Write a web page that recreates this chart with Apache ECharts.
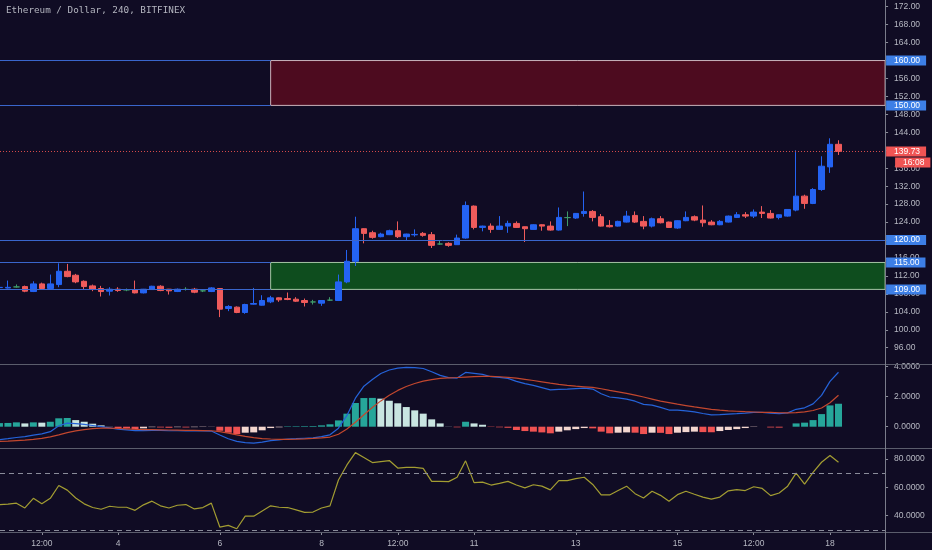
<!DOCTYPE html>
<html><head><meta charset="utf-8">
<script src="https://cdn.jsdelivr.net/npm/echarts@6/dist/echarts.min.js"></script>
<style>html,body{margin:0;padding:0;background:#100c24;}#c{width:932px;height:550px;}</style>
</head><body><div id="c"></div>
<script>
// ---- data (4h candles, index 0 = Feb 1 16:00) ----
const openP = [109.4,109.3,109.55,109.63,108.52,110.22,109.19,110.07,113.04,112.15,
110.8,109.78,109.19,108.6,109.04,108.89,108.89,108.22,108.96,109.7,
109.04,108.52,109.0,109.04,108.67,108.52,109.19,104.74,105.04,103.85,
105.7,105.48,106.22,107.11,106.96,106.81,106.52,106.2,105.93,106.6,
106.52,110.67,115.26,122.52,121.63,120.74,121.19,122.07,120.74,121.15,
121.48,121.19,119.11,119.26,118.96,120.44,127.56,122.81,123.1,122.37,
123.1,123.7,122.96,122.37,123.4,123.1,122.22,125.0,124.9,125.93,
126.37,125.19,123.25,123.1,124.0,125.48,124.15,123.1,124.74,124.0,
122.67,124.3,125.19,124.44,124.0,123.4,124.0,125.04,125.63,125.33,
126.22,125.93,125.04,125.33,126.67,129.78,128.15,131.26,136.3,141.33];
const closeP = [109.45,109.45,109.55,108.6,110.22,109.19,110.22,113.04,111.85,110.67,
109.63,109.04,108.52,109.04,108.74,108.89,108.22,109.04,109.7,108.74,
108.67,109.04,109.0,108.37,108.67,109.33,104.59,105.19,103.85,105.63,
105.85,106.52,107.11,106.67,106.74,106.37,106.07,106.2,106.52,106.6,
110.67,115.26,122.52,121.48,120.59,121.33,122.07,120.74,121.33,121.25,
121.04,118.81,119.11,118.81,120.44,127.7,122.81,123.1,122.37,123.1,
123.7,122.81,122.52,123.4,123.1,122.22,125.04,125.0,125.93,126.37,
125.04,123.1,122.96,124.15,125.33,124.0,123.1,124.74,123.85,122.8,
124.3,125.04,124.44,123.85,123.4,124.15,125.33,125.63,125.33,126.22,
125.93,124.9,125.63,126.81,129.78,128.15,131.26,136.45,141.33,139.73];
const lowP = [109.2,109.2,109.4,108.37,108.4,108.9,109.0,109.48,111.7,110.37,
109.04,108.6,107.41,107.63,108.45,108.6,108.1,108.1,108.9,108.6,
107.85,108.4,108.74,108.15,108.4,108.4,102.82,104.15,103.7,103.56,
105.6,105.4,105.93,106.22,106.6,106.2,105.19,105.63,105.33,106.4,
106.4,110.37,114.22,119.26,120.3,120.6,121.1,120.44,119.85,120.74,
120.74,118.22,118.9,118.5,118.9,120.3,122.37,121.93,121.6,122.3,
121.6,122.7,119.56,122.3,122.07,122.1,122.1,123.1,124.7,125.2,
124.15,123.0,122.8,123.0,123.9,123.8,122.4,122.8,123.7,122.7,
122.5,124.2,124.2,122.96,123.3,123.3,123.9,124.9,124.9,124.9,
124.9,124.8,124.6,125.2,126.4,126.96,128.0,130.96,134.96,138.96];
const highP = [109.6,110.96,110.1,109.85,110.8,110.5,112.3,114.8,114.67,112.45,
111.0,110.07,109.78,109.48,109.48,109.2,110.96,109.1,109.8,109.93,
109.1,109.2,109.48,109.33,108.9,109.5,109.3,105.48,105.2,105.8,
109.33,107.7,107.56,107.2,108.3,107.26,106.96,106.67,106.6,107.26,
112.3,117.78,125.19,122.6,122.07,121.63,122.3,124.15,121.4,122.37,
121.78,121.78,120.0,119.5,121.2,128.59,127.7,123.2,123.7,125.33,
124.3,124.15,123.0,123.5,123.5,124.15,127.26,126.37,126.0,130.81,
126.67,125.8,124.44,124.3,126.5,126.37,125.33,125.0,125.33,124.1,
124.4,126.37,125.48,127.7,124.44,124.44,125.45,126.22,126.22,126.81,
127.56,126.67,125.7,126.9,140.0,130.1,131.56,138.67,142.67,142.23];
const macdLine = [-0.86,-0.80,-0.72,-0.66,-0.56,-0.48,-0.33,0.06,0.24,0.20,
0.15,0.08,0.00,-0.08,-0.17,-0.21,-0.26,-0.26,-0.24,-0.25,
-0.27,-0.27,-0.28,-0.28,-0.28,-0.29,-0.55,-0.80,-0.98,-1.06,
-1.10,-1.03,-0.93,-0.88,-0.82,-0.80,-0.77,-0.74,-0.66,-0.54,
-0.10,0.75,1.90,2.70,3.15,3.55,3.78,3.90,3.95,3.94,
3.88,3.66,3.42,3.27,3.24,3.62,3.56,3.49,3.33,3.29,
3.22,3.02,2.87,2.75,2.61,2.46,2.49,2.51,2.54,2.57,
2.51,2.20,1.98,1.92,1.84,1.70,1.49,1.44,1.29,1.11,
1.10,1.05,0.99,0.88,0.79,0.81,0.84,0.87,0.91,0.96,
0.96,0.90,0.87,0.92,1.16,1.26,1.52,2.09,3.02,3.63];
const signalLine = [-0.98,-0.96,-0.93,-0.90,-0.85,-0.78,-0.68,-0.55,-0.40,-0.28,
-0.20,-0.13,-0.10,-0.10,-0.12,-0.14,-0.17,-0.19,-0.20,-0.21,
-0.22,-0.23,-0.24,-0.25,-0.26,-0.27,-0.33,-0.43,-0.54,-0.65,
-0.73,-0.79,-0.82,-0.84,-0.84,-0.83,-0.81,-0.78,-0.74,-0.69,
-0.50,-0.15,0.30,0.80,1.28,1.72,2.10,2.42,2.68,2.88,
3.04,3.14,3.22,3.26,3.28,3.31,3.34,3.36,3.35,3.33,
3.29,3.24,3.16,3.08,2.99,2.90,2.82,2.75,2.70,2.66,
2.62,2.53,2.42,2.32,2.22,2.10,1.98,1.84,1.70,1.60,
1.50,1.41,1.32,1.24,1.16,1.10,1.06,1.03,1.00,0.98,
0.96,0.95,0.93,0.92,0.94,0.99,1.08,1.25,1.60,2.10];
const histogram = [0.24,0.25,0.29,0.22,0.29,0.27,0.33,0.56,0.58,0.44,
0.33,0.20,0.09,0.01,-0.09,-0.11,-0.18,-0.11,-0.03,-0.05,
-0.07,-0.03,-0.05,-0.03,-0.02,-0.01,-0.27,-0.40,-0.49,-0.40,
-0.38,-0.24,-0.09,-0.04,0.03,0.035,0.04,0.045,0.09,0.16,
0.42,0.87,1.58,1.91,1.92,1.87,1.73,1.56,1.31,1.09,
0.87,0.49,0.22,0.01,-0.04,0.33,0.22,0.13,-0.02,-0.04,
-0.07,-0.22,-0.29,-0.33,-0.38,-0.44,-0.33,-0.24,-0.16,-0.09,
-0.11,-0.33,-0.44,-0.40,-0.38,-0.40,-0.49,-0.40,-0.41,-0.49,
-0.40,-0.36,-0.33,-0.36,-0.37,-0.29,-0.22,-0.16,-0.09,-0.02,
0,-0.05,-0.06,0,0.22,0.27,0.44,0.84,1.42,1.53];
const rsiLine = [47.8,48.1,48.8,45.4,52.2,48.3,52.2,61.3,58.0,52.4,
48.3,45.7,44.5,46.6,45.9,45.9,43.7,47.6,50.2,46.9,
45.4,47.3,47.8,44.7,45.7,48.8,31.9,33.1,30.7,39.6,
39.6,43.3,46.9,45.9,45.7,44.0,42.3,42.5,45.4,46.9,
65.2,75.8,84.5,81.1,77.5,78.2,78.9,73.6,74.1,74.1,
73.4,64.2,64.2,64.0,67.1,78.7,63.3,63.7,61.6,62.8,
64.2,61.6,59.6,61.8,60.8,58.2,64.7,64.7,66.1,67.1,
62.0,54.6,54.6,57.7,60.8,55.5,52.4,57.2,54.3,50.2,
54.8,57.2,55.1,53.1,51.7,53.1,57.5,58.4,57.7,60.4,
59.2,54.1,56.0,60.8,70.0,62.3,70.5,77.7,82.5,77.7];

const priceTicks = [96,100,104,108,112,116,120,124,128,132,136,140,144,148,152,156,160,164,168,172];
const macdTicks = [0,2,4];
const rsiTicks = [40,60,80];
const rsiBands = [70,30];
const timeTickIndex = [5,14,26,38,47,56,68,80,89,98];
const timeTickText = ['12:00','4','6','8','12:00','11','13','15','12:00','18'];
const resistZone = [150,160];
const supportZone = [109,115];
const partialLevels = [160,150,115,109];
const fullLevel = 120;
const zoneStartIndex = 32;
const lastPrice = 139.73;
const countdown = '16:08';
const titleText = 'Ethereum / Dollar, 240, BITFINEX';
const xRange = [0.065, 104.5];   // visible candle-index window

const UP = '#2463f2', DOWN = '#ef5b5b', DOJI = '#3f9a6a';
const TXT = '#b7b9c3', FONT = 'Liberation Sans';
const candleData = openP.map((o,i) => [i, o, closeP[i], lowP[i], highP[i]]);
function histColor(v, prev) {
  if (v >= 0) return (prev === undefined || v > prev) ? '#26a69a' : '#c9e5e1';
  return (v < prev) ? '#f05252' : '#f3d6cf';
}
const histData = histogram.map((v,i) => ({value: [i, v], itemStyle: {color: histColor(v, histogram[i-1])}}));
const macdData = macdLine.map((v,i) => [i, v]);
const signalData = signalLine.map((v,i) => [i, v]);
const rsiData = rsiLine.map((v,i) => [i, v]);

const GR = 46.9;
const grids = [
  {left: 0, right: GR, top: 0, height: 364},
  {left: 0, right: GR, top: 365, height: 82},
  {left: 0, right: GR, top: 449, height: 83}
];
function yAx(gi, min, max, ticks, dec) {
  return {type:'value', gridIndex: gi, position:'right', min: min, max: max,
    axisLine:{show:false}, splitLine:{show:false},
    axisTick:{show:true, length:3, customValues: ticks, lineStyle:{color:'#8a8c98'}},
    axisLabel:{customValues: ticks, formatter: v => v.toFixed(dec), margin: 9, color: TXT, fontSize: 8.5, fontFamily: FONT}};
}
function xAx(gi) {
  const bottom = gi === 2;
  return {type:'value', gridIndex: gi, min: xRange[0], max: xRange[1],
    axisLine:{show:false}, splitLine:{show:false},
    axisTick:{show: bottom, length: 3, customValues: timeTickIndex, lineStyle:{color:'#8a8c98'}},
    axisLabel:{show: bottom, customValues: timeTickIndex, margin: 7, color: TXT, fontSize: 8.5, fontFamily: FONT,
      formatter: (v) => { const k = timeTickIndex.indexOf(Math.round(v)); return k >= 0 ? timeTickText[k] : ''; }}};
}
function boxLabel(bg, text, offset) {
  return {show:true, position:'end', distance:1, formatter: text, backgroundColor: bg, color:'#ffffff',
    fontSize: 8.5, fontFamily: FONT, padding:[1,6,0,8], lineHeight: 9, offset: offset || [0,0]};
}
const HIDDEN = {color:'rgba(0,0,0,0)', width:1};

const levelMarks = [];
partialLevels.forEach(v => {
  levelMarks.push([{coord:[xRange[0], v]}, {coord:[zoneStartIndex, v]}]);
  levelMarks.push({yAxis: v, lineStyle: HIDDEN, label: boxLabel('#3d7fe6', v.toFixed(2))});
});
levelMarks.push({yAxis: fullLevel, label: boxLabel('#3d7fe6', fullLevel.toFixed(2))});

const sep = (x1,y1,x2,y2,c) => ({type:'line', silent:true, z:100, shape:{x1,y1,x2,y2}, style:{stroke:c, lineWidth:1}});

const option = {
  backgroundColor: '#100c24',
  animation: false,
  title: {text: titleText, left: 6, top: 6, padding: 0,
    textStyle:{fontFamily:'DejaVu Sans Mono', fontSize: 9.3, fontWeight:'normal', color:'#b3b5bf'}},
  grid: grids,
  xAxis: [xAx(0), xAx(1), xAx(2)],
  yAxis: [yAx(0, 92.37, 173.49, priceTicks, 2), yAx(1, -1.353, 4.113, macdTicks, 4), yAx(2, 28.41, 87.07, rsiTicks, 4)],
  graphic: [
    sep(0, 364.5, 932, 364.5, '#5b5d6c'),
    sep(0, 448.5, 932, 448.5, '#5b5d6c'),
    sep(0, 532.5, 932, 532.5, '#5b5d6c'),
    sep(885.5, 0, 885.5, 550, '#7a7c8a')
  ],
  series: [
    {type:'candlestick', name:'ETHUSD', xAxisIndex:0, yAxisIndex:0, data: candleData, encode:{x:0, y:[1,2,3,4]},
      barWidth: 6, z: 2, clip: true,
      itemStyle:{color: UP, color0: DOWN, borderColor: UP, borderColor0: DOWN, borderColorDoji: DOJI, borderWidth: 1},
      markLine:{silent:true, symbol:['none','none'], animation:false, data:[
        {yAxis: lastPrice, lineStyle:{color:'#d54a4a', type:[1,2], width:1}, label: boxLabel('#f05454', lastPrice.toFixed(2))},
        {yAxis: lastPrice, lineStyle: HIDDEN, label: boxLabel('#f05454', countdown, [9, 11])}
      ]}},
    {type:'line', name:'levels', xAxisIndex:0, yAxisIndex:0, data: [], z: 3,
      markLine:{silent:true, symbol:['none','none'], animation:false, lineStyle:{color:'#3a66cc', type:'solid', width:1}, label:{show:false}, data: levelMarks}},
    {type:'line', name:'zones', xAxisIndex:0, yAxisIndex:0, data: [], z: 4,
      markArea:{silent:true, animation:false, data:[
        [{xAxis: zoneStartIndex, yAxis: resistZone[1], itemStyle:{color:'rgba(138,9,26,0.5)', borderColor:'#c9b3bb', borderWidth:1}}, {yAxis: resistZone[0]}],
        [{xAxis: zoneStartIndex, yAxis: supportZone[1], itemStyle:{color:'rgba(12,141,24,0.5)', borderColor:'#a6c6a6', borderWidth:1}}, {yAxis: supportZone[0]}]
      ]}},
    {type:'bar', name:'Histogram', xAxisIndex:1, yAxisIndex:1, data: histData, barWidth: 7},
    {type:'line', name:'MACD', xAxisIndex:1, yAxisIndex:1, data: macdData, showSymbol:false, lineStyle:{color:'#2563d9', width:1.2}, z: 3},
    {type:'line', name:'Signal', xAxisIndex:1, yAxisIndex:1, data: signalData, showSymbol:false, lineStyle:{color:'#c2472e', width:1.2}, z: 3},
    {type:'line', name:'RSI', xAxisIndex:2, yAxisIndex:2, data: rsiData, showSymbol:false, lineStyle:{color:'#a39d32', width:1.2},
      markLine:{silent:true, symbol:['none','none'], animation:false, label:{show:false},
        lineStyle:{color:'#8a8c9a', type:[5,4], width:1}, data: rsiBands.map(v => ({yAxis: v}))}}
  ]
};
const chart = echarts.init(document.getElementById('c'));
chart.setOption(option);
</script>
</body></html>
